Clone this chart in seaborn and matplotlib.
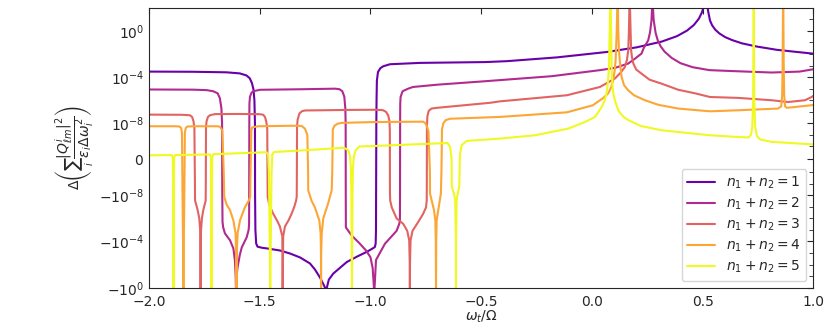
import numpy as np
import matplotlib
matplotlib.use('Agg')
import matplotlib.pyplot as plt
import seaborn as sns
from matplotlib.ticker import FixedLocator

# 各条曲线的采样点 (omega_t/Omega, 数值)
pts_n1 = [
    (-2.000, 3.0e-4), (-1.800, 2.9e-4), (-1.650, 2.6e-4), (-1.590, 2.1e-4), (-1.560, 1.4e-4),
    (-1.545, 8e-5), (-1.535, 3e-5), (-1.528, 8e-6), (-1.524, 1e-6), (-1.5215, 1e-8),
    (-1.521, -1e-8), (-1.5195, -1e-5), (-1.516, -1.5e-4), (-1.510, -2.8e-4), (-1.490, -3.5e-4),
    (-1.467, -4e-4), (-1.409, -6e-4), (-1.363, -1.1e-3), (-1.318, -2.4e-3), (-1.273, -8e-3),
    (-1.251, -0.026), (-1.228, -0.13), (-1.215, -0.4), (-1.205, -1.0), (-1.201, -5.0),
    (-1.197, -1.0), (-1.188, -0.2), (-1.168, -0.06), (-1.107, -6e-3), (-1.060, -2e-3),
    (-1.017, -8e-4), (-0.990, -4e-4), (-0.980, -3e-4), (-0.9765, -1.5e-4), (-0.975, -1e-5),
    (-0.9745, -1e-8), (-0.9735, 1e-8), (-0.9725, 1e-6), (-0.971, 5e-5), (-0.966, 2.8e-4),
    (-0.955, 6e-4), (-0.942, 8.7e-4), (-0.912, 1.3e-3), (-0.777, 1.7e-3), (-0.483, 2.0e-3),
    (-0.384, 2.4e-3), (-0.158, 5.1e-3), (0.068, 0.015), (0.203, 0.038), (0.316, 0.12),
    (0.384, 0.35), (0.429, 1.05), (0.460, 3.2), (0.483, 11.5), (0.4966, 40.0),
    (0.506, 150.0), (0.516, 1e4), (0.524, 60.0), (0.533, 8.1), (0.5425, 3.1),
    (0.5565, 1.3), (0.5745, 0.62), (0.6015, 0.29), (0.633, 0.16), (0.678, 0.083),
    (0.745, 0.044), (0.835, 0.023), (0.926, 0.015), (1.000, 0.0107),
]

pts_n2 = [
    (-2.000, 8.5e-6), (-1.800, 8.2e-6), (-1.740, 7.5e-6), (-1.710, 6e-6), (-1.690, 4e-6),
    (-1.680, 1.5e-6), (-1.673, 2e-7), (-1.670, 1e-8), (-1.669, -1e-8), (-1.668, -2e-6),
    (-1.665, -6e-6), (-1.657, -2e-5), (-1.634, -8e-5), (-1.619, -4e-4), (-1.612, -4.3e-3),
    (-1.6085, -0.1), (-1.607, -3.0), (-1.6045, -0.1), (-1.600, -0.017), (-1.590, -1.5e-3),
    (-1.581, -3.2e-4), (-1.559, -4.4e-5), (-1.550, -1e-5), (-1.548, -3e-6), (-1.5475, -1e-8),
    (-1.547, 1e-8), (-1.5465, 5e-7), (-1.544, 2e-6), (-1.537, 4.5e-6), (-1.529, 6e-6),
    (-1.499, 8e-6), (-1.300, 9e-6), (-1.160, 1e-5), (-1.140, 9e-6), (-1.127, 6e-6),
    (-1.118, 2e-6), (-1.1135, 2e-7), (-1.112, 1e-8), (-1.1115, -1e-8), (-1.111, -6e-6),
    (-1.100, -1.2e-5), (-1.085, -3e-5), (-1.050, -1.4e-4), (-1.020, -6e-4), (-1.000, -2.3e-3),
    (-0.990, -0.02), (-0.986, -0.3), (-0.983, -3.0), (-0.980, -0.3), (-0.975, -4e-3),
    (-0.935, -1.6e-4), (-0.882, -1.2e-5), (-0.870, -3e-6), (-0.867, -1.5e-6), (-0.8665, -1e-8),
    (-0.866, 1e-8), (-0.8655, 5e-7), (-0.864, 1.9e-6), (-0.855, 6e-6), (-0.830, 1e-5),
    (-0.808, 1.4e-5), (-0.700, 2.2e-5), (-0.483, 4.4e-5), (-0.182, 1.2e-4), (0.036, 4e-4),
    (0.104, 6.3e-4), (0.164, 1.5e-3), (0.194, 3.9e-3), (0.224, 0.011), (0.2345, 0.035),
    (0.254, 0.15), (0.2625, 0.78), (0.269, 8.3), (0.2715, 100.0), (0.2735, 1e4),
    (0.2755, 100.0), (0.279, 8.0), (0.2876, 0.66), (0.2966, 0.166), (0.310, 0.047),
    (0.328, 0.016), (0.360, 4.6e-3), (0.400, 1.6e-3), (0.455, 7.2e-4), (0.531, 4e-4),
    (0.659, 3.2e-4), (0.811, 2.5e-4), (0.937, 3e-4), (1.000, 4.8e-4),
]

pts_n3 = [
    (-2.000, 5.7e-8), (-1.850, 5.5e-8), (-1.815, 5e-8), (-1.805, 3.5e-8), (-1.799, 1.5e-8),
    (-1.795, 4e-9), (-1.7925, -1e-9), (-1.792, -2.8e-8), (-1.780, -2e-7), (-1.773, -1e-6),
    (-1.769, -1e-5), (-1.7675, -1e-3), (-1.767, -3.0), (-1.7665, -1e-3), (-1.765, -1e-5),
    (-1.761, -1e-6), (-1.755, -2e-7), (-1.744, -2.8e-8), (-1.7435, -1e-9), (-1.7425, 5e-9),
    (-1.740, 1.5e-8), (-1.734, 3.5e-8), (-1.725, 5e-8), (-1.702, 6.3e-8), (-1.600, 6.5e-8),
    (-1.500, 6.2e-8), (-1.484, 5.5e-8), (-1.476, 3.5e-8), (-1.470, 1.3e-8), (-1.466, 3e-9),
    (-1.4645, -1e-9), (-1.464, -1.4e-8), (-1.458, -5e-8), (-1.449, -1.5e-7), (-1.439, -4e-7),
    (-1.420, -1.8e-6), (-1.409, -5e-6), (-1.398, -3.5e-5), (-1.3965, -3.0), (-1.394, -3.5e-5),
    (-1.386, -5e-6), (-1.370, -1.5e-6), (-1.356, -4e-7), (-1.344, -1e-7), (-1.336, -3e-8),
    (-1.333, -1.4e-8), (-1.3325, -1e-9), (-1.3315, 5e-9), (-1.329, 2e-8), (-1.321, 7e-8),
    (-1.310, 1.1e-7), (-1.296, 1.3e-7), (-1.100, 1.45e-7), (-0.980, 1.5e-7), (-0.945, 1.4e-7),
    (-0.930, 1e-7), (-0.920, 5e-8), (-0.914, 1.5e-8), (-0.9125, 2e-9), (-0.912, -5e-9),
    (-0.911, -2.8e-8), (-0.904, -1.1e-7), (-0.882, -1e-6), (-0.852, -3e-6), (-0.834, -1.2e-5),
    (-0.825, -8e-5), (-0.8225, -1e-2), (-0.822, -3.0), (-0.8215, -1e-2), (-0.819, -8e-5),
    (-0.810, -1.2e-5), (-0.784, -2e-6), (-0.762, -4e-7), (-0.749, -1.1e-7), (-0.746, -2.8e-8),
    (-0.7455, -1e-9), (-0.745, 5e-9), (-0.743, 4e-8), (-0.737, 1.2e-7), (-0.725, 1.9e-7),
    (-0.700, 2.2e-7), (-0.460, 6e-7), (-0.415, 8e-7), (-0.113, 2.7e-6), (0.036, 1.4e-5),
    (0.104, 7.6e-5), (0.130, 2.5e-4), (0.149, 7.6e-4), (0.158, 3e-3), (0.164, 0.021),
    (0.167, 1.0), (0.169, 100.0), (0.1705, 1e4), (0.172, 100.0), (0.1745, 1.0),
    (0.177, 0.021), (0.181, 5e-3), (0.187, 1.5e-3), (0.200, 4.5e-4), (0.224, 2e-4),
    (0.260, 6e-5), (0.315, 2.7e-5), (0.390, 8e-6), (0.465, 4e-6), (0.533, 1.9e-6),
    (0.659, 1.6e-6), (0.811, 1e-6), (0.885, 7e-7), (0.962, 1e-6), (0.992, 1.9e-6),
    (1.000, 2.4e-6),
]

pts_n4 = [
    (-2.000, 5.6e-9), (-1.880, 5.6e-9), (-1.862, 5.3e-9), (-1.855, 4e-9), (-1.851, 1.5e-9),
    (-1.849, -1e-9), (-1.8475, -1e-6), (-1.8455, -1e-3), (-1.8445, -3.0), (-1.8435, -1e-3),
    (-1.8415, -1e-6), (-1.840, -1e-9), (-1.838, 1.5e-9), (-1.834, 4e-9), (-1.827, 5.3e-9),
    (-1.800, 5.6e-9), (-1.690, 5.6e-9), (-1.679, 5e-9), (-1.669, 2.5e-9), (-1.6625, -1e-10),
    (-1.660, -1.4e-8), (-1.650, -6e-8), (-1.634, -2e-7), (-1.619, -1.5e-6), (-1.609, -2e-5),
    (-1.6065, -1e-3), (-1.605, -3.0), (-1.6035, -1e-3), (-1.600, -2e-5), (-1.589, -1.5e-6),
    (-1.567, -1.1e-7), (-1.549, -2.8e-8), (-1.543, -1.4e-8), (-1.5415, -1e-10), (-1.538, 2.5e-9),
    (-1.534, 4.5e-9), (-1.507, 5.6e-9), (-1.350, 6.2e-9), (-1.311, 6e-9), (-1.296, 3.5e-9),
    (-1.285, 1e-9), (-1.2815, -1e-10), (-1.281, -3.7e-9), (-1.266, -3e-8), (-1.251, -1.1e-7),
    (-1.231, -1.5e-6), (-1.225, -2e-5), (-1.2235, -1e-3), (-1.223, -3.0), (-1.2225, -1e-3),
    (-1.220, -2e-5), (-1.213, -1e-6), (-1.191, -5e-8), (-1.175, -3.7e-9), (-1.1725, -1e-10),
    (-1.170, 3e-9), (-1.163, 6e-9), (-1.150, 9e-9), (-1.130, 1.1e-8), (-0.980, 1.3e-8),
    (-0.762, 1.4e-8), (-0.752, 1e-8), (-0.744, 5e-9), (-0.738, 2e-9), (-0.7315, -1e-10),
    (-0.731, -7e-9), (-0.713, -2e-7), (-0.707, -1.5e-6), (-0.705, -1e-4), (-0.704, -3.0),
    (-0.703, -1e-4), (-0.701, -1.5e-6), (-0.694, -2e-7), (-0.682, -7e-9), (-0.6795, -1e-10),
    (-0.677, 3e-9), (-0.671, 1e-8), (-0.660, 1.9e-8), (-0.641, 2.5e-8), (-0.415, 3.6e-8),
    (-0.113, 9e-8), (0.005, 3.7e-7), (0.014, 5e-7), (0.050, 1.5e-6), (0.074, 4e-6),
    (0.088, 1.5e-5), (0.096, 5.4e-5), (0.103, 4e-4), (0.107, 2.8e-3), (0.112, 1.0),
    (0.1145, 100.0), (0.116, 1e4), (0.1175, 100.0), (0.119, 1.0), (0.122, 0.021),
    (0.127, 1.5e-3), (0.134, 1.05e-4), (0.145, 2e-5), (0.164, 7.2e-6), (0.190, 2.7e-6),
    (0.239, 1e-6), (0.300, 4e-7), (0.390, 1.9e-7), (0.533, 1.1e-7), (0.659, 1.35e-7),
    (0.840, 1.9e-7), (0.855, 3e-7), (0.859, 3e-6), (0.861, 1e-3), (0.8635, 1e4),
    (0.866, 1e-3), (0.868, 3e-6), (0.872, 3e-7), (0.880, 2.2e-7), (0.992, 3.7e-7),
    (1.000, 4e-7),
]

pts_n5 = [
    (-2.000, 3.1e-11), (-1.897, 3.3e-11), (-1.8925, 1.5e-11), (-1.8915, -1e-9), (-1.8905, -1e-4),
    (-1.8895, -3.0), (-1.8885, -1e-4), (-1.8875, -1e-9), (-1.8865, 1.5e-11), (-1.882, 3.3e-11),
    (-1.725, 3.8e-11), (-1.7205, 1.5e-11), (-1.7195, -1e-9), (-1.7185, -1e-4), (-1.7175, -3.0),
    (-1.7165, -1e-4), (-1.7155, -1e-9), (-1.7145, 1.5e-11), (-1.710, 4e-11), (-1.470, 5.5e-11),
    (-1.462, 4e-11), (-1.4585, -1e-10), (-1.456, -1e-6), (-1.4525, -3.0), (-1.449, -1e-6),
    (-1.4465, -1e-10), (-1.443, 4e-11), (-1.435, 5.7e-11), (-1.300, 7e-11), (-1.120, 9e-11),
    (-1.100, 7e-11), (-1.092, 2e-11), (-1.088, -7e-11), (-1.086, -1e-8), (-1.0835, -3.0),
    (-1.081, -1e-8), (-1.079, -7e-11), (-1.075, 2e-11), (-1.067, 7e-11), (-1.050, 1e-10),
    (-0.980, 1.1e-10), (-0.653, 2e-10), (-0.641, 1e-10), (-0.635, 3e-11), (-0.6335, -1e-11),
    (-0.633, -1.9e-9), (-0.623, -7e-9), (-0.617, -2.8e-8), (-0.6145, -1e-4), (-0.614, -3.0),
    (-0.6135, -1e-4), (-0.611, -2.8e-8), (-0.606, -7e-9), (-0.599, -1.9e-9), (-0.5965, -1e-11),
    (-0.595, 5e-11), (-0.588, 1.3e-10), (-0.566, 3e-10), (-0.483, 3.9e-10), (-0.415, 4.8e-10),
    (-0.257, 9.3e-10), (-0.107, 3.5e-9), (-0.032, 1.3e-8), (0.014, 3.6e-8), (0.044, 2.6e-7),
    (0.058, 1e-6), (0.066, 4e-6), (0.072, 3e-5), (0.077, 7.6e-4), (0.080, 0.5),
    (0.082, 100.0), (0.0835, 1e4), (0.085, 100.0), (0.087, 0.5), (0.089, 7.6e-4),
    (0.092, 3e-5), (0.096, 4e-6), (0.105, 8e-7), (0.119, 1.35e-7), (0.140, 4e-8),
    (0.164, 1.9e-8), (0.220, 6e-9), (0.315, 2.5e-9), (0.533, 9.3e-10), (0.659, 6.6e-10),
    (0.706, 6e-10), (0.718, 1e-9), (0.724, 5e-9), (0.728, 1e-6), (0.7305, 1e4),
    (0.733, 1e-6), (0.737, 5e-9), (0.745, 8e-10), (0.760, 4e-10), (0.811, 2.5e-10),
    (1.000, 1.5e-10),
]

series = [pts_n1, pts_n2, pts_n3, pts_n4, pts_n5]
labels = [r'$n_1 + n_2 = %d$' % k for k in range(1, 6)]
y_major = [-1.0, -1e-4, -1e-8, 0.0, 1e-8, 1e-4, 1.0]
x_major = [-2.0, -1.5, -1.0, -0.5, 0.0, 0.5, 1.0]

sns.set_style('white')
plt.rcParams['font.family'] = ['DejaVu Sans']

fig, ax = plt.subplots(figsize=(8.3, 3.24), dpi=100)
fig.subplots_adjust(left=0.1795, right=0.980, bottom=0.112, top=0.976)

colors = plt.cm.plasma(np.linspace(0.2, 1.0, 5))
for pts, lab, c in zip(series, labels, colors):
    xs, ys = zip(*pts)
    sns.lineplot(x=list(xs), y=list(ys), color=c, lw=1.5, label=lab,
                 ax=ax, estimator=None, sort=False)

ax.set_yscale('symlog', linthresh=1e-10, linscale=1)
ax.set_xlim(-2.0, 1.0)
ax.set_ylim(-1.0, 100.0)
ax.set_xticks(x_major)
ax.set_yticks(y_major)
minor = [s * 10.0 ** k for k in range(-10, 3) for s in (1, -1)]
minor = [m for m in minor if m not in y_major and -1.0 <= m <= 100.0]
ax.yaxis.set_minor_locator(FixedLocator(minor))
ax.tick_params(which='both', direction='in', top=True, right=True, labelsize=10)
ax.tick_params(which='major', length=4.5)
ax.tick_params(which='minor', length=3)
ax.tick_params(axis='x', pad=5)
for sp in ax.spines.values():
    sp.set_linewidth(0.8)

ax.set_xlabel(r'$\omega_t/\Omega$', fontsize=10, labelpad=0)
ax.set_ylabel(r'$\Delta\left(\sum_i \dfrac{|Q^i_{\ell m}|^2}{\varepsilon_i \Delta\omega_i^2}\right)$',
              fontsize=10, labelpad=2)
ax.legend(loc='lower right', fontsize=10, labelspacing=0.33)

fig.savefig('out.png', dpi=100)
